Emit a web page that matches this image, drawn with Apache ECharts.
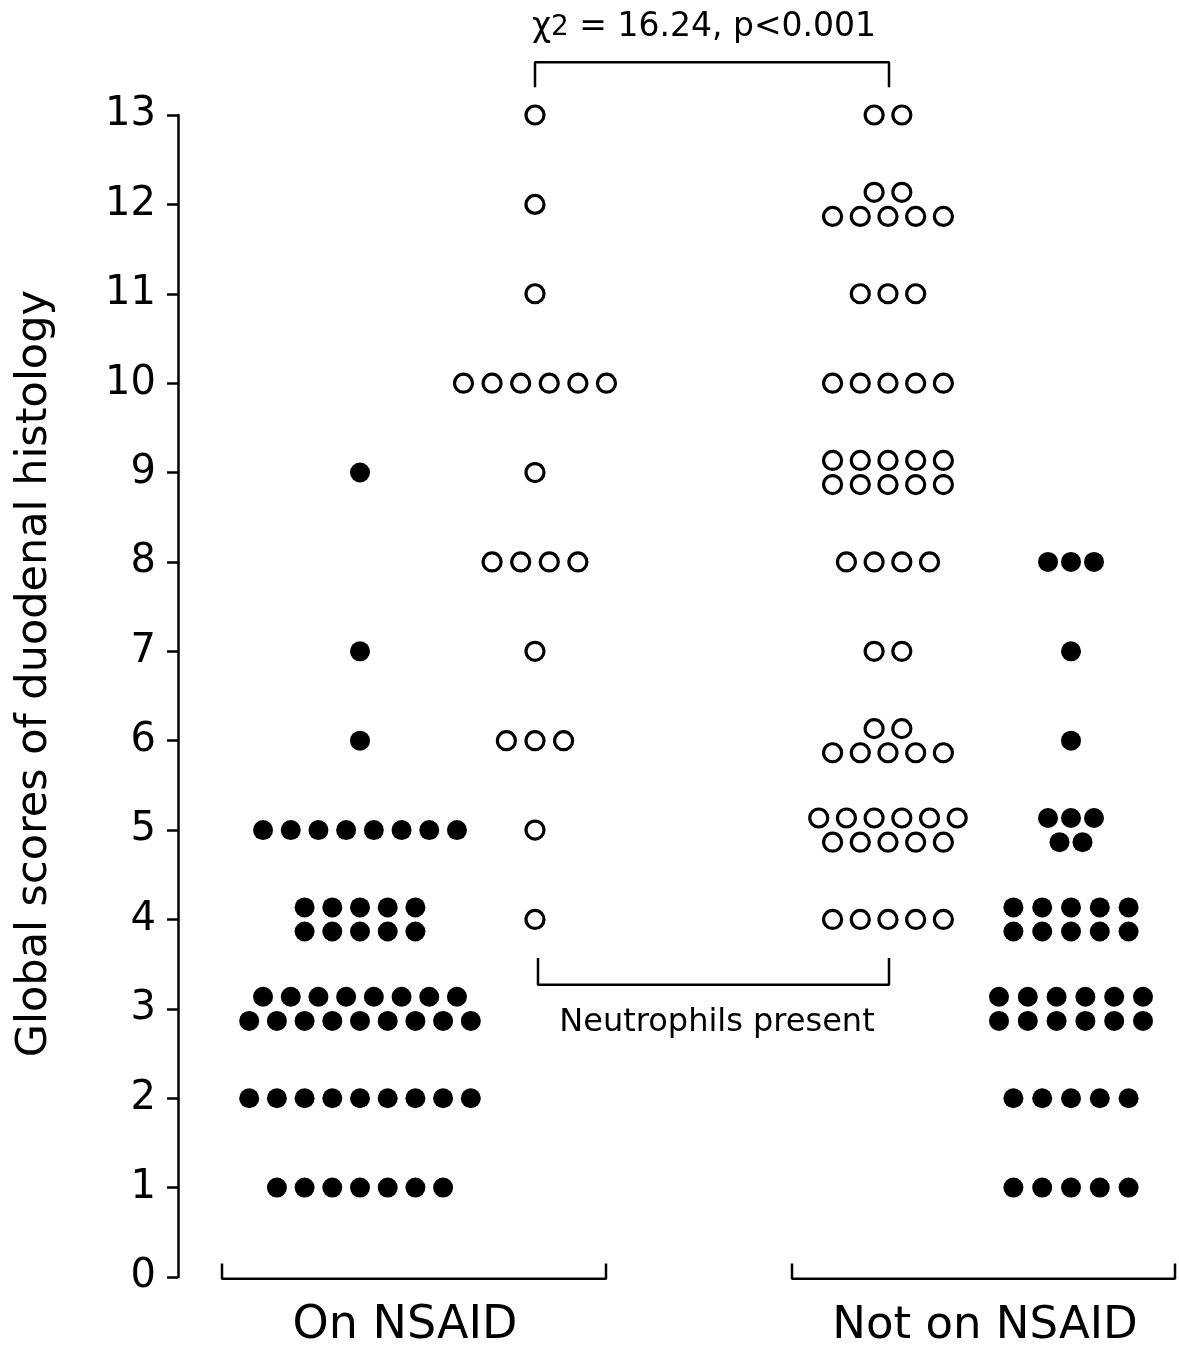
<!DOCTYPE html>
<html>
<head>
<meta charset="utf-8">
<script src="https://cdn.jsdelivr.net/npm/echarts@6/dist/echarts.min.js"></script>
<style>
  html, body { margin: 0; padding: 0; background: #fff; }
  #chart { width: 1179px; height: 1354px; }
</style>
</head>
<body>
<div id="chart"></div>
<script>
// ---------------- DATA ----------------
// Each group: scores, and number of dots in the upper row (A) and lower row (B) at that score
const yTicks = [0,1,2,3,4,5,6,7,8,9,10,11,12,13];
const categoryLabels = ['On NSAID', 'Not on NSAID'];

// On NSAID, no neutrophils (filled)
const onFilledScores = [1, 2, 3, 4, 5, 6, 7, 9];
const onFilledRowA   = [7, 9, 8, 5, 8, 1, 1, 1];
const onFilledRowB   = [0, 0, 9, 5, 0, 0, 0, 0];

// On NSAID, neutrophils present (open)
const onOpenScores = [4, 5, 6, 7, 8, 9, 10, 11, 12, 13];
const onOpenRowA   = [1, 1, 3, 1, 4, 1, 6, 1, 1, 1];
const onOpenRowB   = [0, 0, 0, 0, 0, 0, 0, 0, 0, 0];

// Not on NSAID, neutrophils present (open)
const notOpenScores = [4, 5, 6, 7, 8, 9, 10, 11, 12, 13];
const notOpenRowA   = [5, 6, 2, 2, 4, 5, 5, 3, 2, 2];
const notOpenRowB   = [0, 5, 5, 0, 0, 5, 0, 0, 5, 0];

// Not on NSAID, no neutrophils (filled)
const notFilledScores = [1, 2, 3, 4, 5, 6, 7, 8];
const notFilledRowA   = [5, 5, 6, 5, 3, 1, 1, 3];
const notFilledRowB   = [0, 0, 6, 5, 2, 0, 0, 0];

const neutroText = 'Neutrophils present';
const yName = 'Global scores of duodenal histology';

// ---------------- LAYOUT ----------------
const FONT = 'DejaVu Sans, Liberation Sans, Arial, sans-serif';
const ROW_OFF = 0.135;     // vertical offset of stacked sub-rows (score units)

function buildDots(scores, rowA, rowB, center, spacing, tightScores, tightSpacing) {
  const pts = [];
  scores.forEach((s, i) => {
    const sp = (tightScores && tightScores.indexOf(s) >= 0) ? tightSpacing : spacing;
    const rows = rowB[i] > 0 ? [[rowA[i], s + ROW_OFF], [rowB[i], s - ROW_OFF]] : [[rowA[i], s]];
    rows.forEach(([n, y]) => {
      for (let k = 0; k < n; k++) {
        pts.push([center + (k - (n - 1) / 2) * sp, y]);
      }
    });
  });
  return pts;
}

const onFilledDots  = buildDots(onFilledScores, onFilledRowA, onFilledRowB, 182, 27.7);
const onOpenDots    = buildDots(onOpenScores, onOpenRowA, onOpenRowB, 357, 28.6);
const notOpenDots   = buildDots(notOpenScores, notOpenRowA, notOpenRowB, 710, 27.7);
const notFilledDots = buildDots(notFilledScores, notFilledRowA, notFilledRowB, 893, 28.8, [5, 8], 23);

const filledStyle = { symbol: 'circle', symbolSize: 20, itemStyle: { color: '#000', opacity: 1 } };
const openStyle = { symbol: 'circle', symbolSize: 18, itemStyle: { color: '#fff', borderColor: '#000', borderWidth: 3.2, opacity: 1 } };

function bracket(pts) {
  return {
    type: 'line', data: pts, symbol: 'none', clip: false, silent: true,
    lineStyle: { color: '#000', width: 2.5 }, z: 1
  };
}

const annotations = [
  { value: [227, -0.55], label: { formatter: categoryLabels[0], fontSize: 46 } },
  { value: [807, -0.55], label: { formatter: categoryLabels[1], fontSize: 45 } },
  { value: [526, 13.98], label: { formatter: '{c|χ}{s|2}{c| = 16.24, p<0.001}', rich: {
      c: { fontSize: 33, fontFamily: FONT, color: '#000' },
      s: { fontSize: 28, fontFamily: FONT, color: '#000' } } } },
  { value: [539, 2.85], label: { formatter: neutroText, fontSize: 32 } },
  { value: [-143, 6.75], label: { formatter: yName, fontSize: 43, rotate: 90 } }
];

const chart = echarts.init(document.getElementById('chart'), null, { renderer: 'canvas' });
chart.setOption({
  animation: false,
  backgroundColor: '#fff',
  grid: { left: 178, right: 1, top: 115, bottom: 77, containLabel: false, outerBoundsMode: 'none' },
  xAxis: { type: 'value', min: 0, max: 1000, show: false },
  yAxis: {
    type: 'value', min: 0, max: 13, interval: 1,
    axisLine: { show: true, lineStyle: { color: '#000', width: 2.5 } },
    axisTick: { show: true, inside: false, length: 11, lineStyle: { color: '#000', width: 2.5 } },
    axisLabel: { fontSize: 40, fontFamily: FONT, color: '#000', margin: 22,
      formatter: v => String(yTicks[v] !== undefined ? yTicks[v] : v) },
    splitLine: { show: false }
  },
  series: [
    Object.assign({ type: 'scatter', data: onFilledDots, silent: true, z: 3 }, filledStyle),
    Object.assign({ type: 'scatter', data: onOpenDots, silent: true, z: 3 }, openStyle),
    Object.assign({ type: 'scatter', data: notOpenDots, silent: true, z: 3 }, openStyle),
    Object.assign({ type: 'scatter', data: notFilledDots, silent: true, z: 3 }, filledStyle),
    bracket([[44, 0.15], [44, -0.02], [428, -0.02], [428, 0.15]]),
    bracket([[614, 0.15], [614, -0.02], [997, -0.02], [997, 0.15]]),
    bracket([[357, 13.31], [357, 13.59], [711, 13.59], [711, 13.31]]),
    bracket([[360, 3.57], [360, 3.27], [711, 3.27], [711, 3.57]]),
    {
      type: 'scatter', data: annotations, symbolSize: 1, clip: false, silent: true,
      itemStyle: { color: 'rgba(0,0,0,0)', opacity: 1 },
      label: { show: true, position: 'inside', color: '#000', fontFamily: FONT }
    }
  ]
});
</script>
</body>
</html>
